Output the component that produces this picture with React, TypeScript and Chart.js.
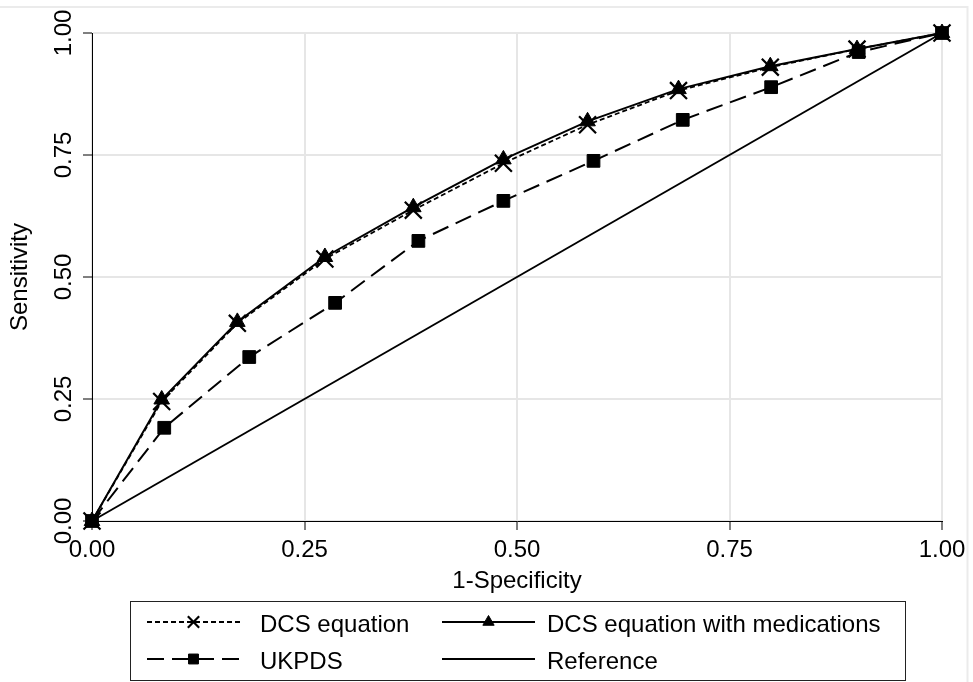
import React, { useEffect, useRef } from 'react';
import { Chart, registerables } from 'chart.js';
import { drawPoint } from 'chart.js/helpers';

Chart.register(...registerables);

// ---- data ----
const dcsFpr = [0, 0.082, 0.171, 0.274, 0.378, 0.484, 0.583, 0.69, 0.798, 0.9, 1];
const dcsSens = [0, 0.245, 0.405, 0.537, 0.637, 0.733, 0.812, 0.882, 0.93, 0.967, 1];
const dcsMedFpr = [0, 0.082, 0.171, 0.274, 0.378, 0.484, 0.583, 0.69, 0.798, 0.9, 1];
const dcsMedSens = [0, 0.249, 0.408, 0.541, 0.643, 0.741, 0.819, 0.885, 0.932, 0.967, 1];
const ukpdsFpr = [0, 0.085, 0.185, 0.286, 0.384, 0.484, 0.59, 0.695, 0.799, 0.902, 1];
const ukpdsSens = [0, 0.191, 0.336, 0.447, 0.574, 0.656, 0.738, 0.822, 0.889, 0.961, 1];
const refFpr = [0, 1];
const refSens = [0, 1];

const seriesLabels = ['DCS equation', 'DCS equation with medications', 'UKPDS', 'Reference'];
const tickValues = [0, 0.25, 0.5, 0.75, 1];
const xTitle = '1-Specificity';
const yTitle = 'Sensitivity';

const FONT = "'Liberation Sans', Arial, Helvetica, sans-serif";

const pts = (xs: number[], ys: number[]) => xs.map((x, i) => ({ x, y: ys[i] }));

const framePlugin = {
  id: 'frame',
  beforeDraw(chart: any) {
    const ctx = chart.ctx;
    ctx.save();
    ctx.fillStyle = '#ffffff';
    ctx.fillRect(0, 0, chart.width, chart.height);
    ctx.strokeStyle = '#ebebeb';
    ctx.lineWidth = 2;
    ctx.strokeRect(-10, 7, 977.5, 700);
    ctx.restore();
  },
};

const legendSlots = [
  { x0: 147, x1: 240, y: 622, tx: 260, r: 8 },
  { x0: 442, x1: 535, y: 622, tx: 547, r: 6.5 },
  { x0: 147, x1: 240, y: 659, tx: 260, r: 7 },
  { x0: 442, x1: 535, y: 659, tx: 547, r: 0 },
];

const legendPlugin = {
  id: 'stataLegend',
  afterDraw(chart: any) {
    const ctx = chart.ctx;
    const datasets = chart.data.datasets;
    ctx.save();
    ctx.setLineDash([]);
    ctx.strokeStyle = '#222';
    ctx.lineWidth = 1;
    ctx.strokeRect(130.5, 601.5, 775, 79);
    datasets.forEach((ds: any, i: number) => {
      const s = legendSlots[i];
      ctx.save();
      ctx.strokeStyle = ds.borderColor;
      ctx.lineWidth = ds.borderWidth;
      ctx.setLineDash(ds.borderDash || []);
      ctx.beginPath();
      ctx.moveTo(s.x0, s.y);
      ctx.lineTo(s.x1, s.y);
      ctx.stroke();
      ctx.setLineDash([]);
      if (s.r > 0 && ds.pointStyle) {
        ctx.fillStyle = ds.pointBackgroundColor;
        ctx.strokeStyle = ds.pointBorderColor;
        ctx.lineWidth = ds.pointBorderWidth;
        drawPoint(ctx, { pointStyle: ds.pointStyle, rotation: 0, radius: s.r, borderWidth: ds.pointBorderWidth }, (s.x0 + s.x1) / 2, s.y);
      }
      ctx.fillStyle = '#000';
      ctx.font = `24px ${FONT}`;
      ctx.textBaseline = 'middle';
      ctx.textAlign = 'left';
      ctx.fillText(ds.label, s.tx, s.y + 3);
      ctx.restore();
    });
    ctx.restore();
  },
};

export default function App() {
  const canvasRef = useRef<HTMLCanvasElement | null>(null);

  useEffect(() => {
    if (!canvasRef.current) return;
    Chart.defaults.font.family = FONT;
    Chart.defaults.color = '#000';

    const tickFont = { size: 24, family: FONT };
    const gridOpts = { color: '#e6e6e6', lineWidth: 2, tickLength: 9, tickColor: '#000', tickWidth: 1 };

    const chart = new Chart(canvasRef.current, {
      type: 'scatter',
      data: {
        datasets: [
          {
            label: seriesLabels[0],
            data: pts(dcsFpr, dcsSens),
            showLine: true,
            borderColor: '#000',
            borderWidth: 1.8,
            borderDash: [5, 3],
            pointStyle: 'crossRot',
            pointRadius: 12,
            pointBorderWidth: 2.2,
            pointBorderColor: '#000',
            pointBackgroundColor: '#000',
            clip: false,
          },
          {
            label: seriesLabels[1],
            data: pts(dcsMedFpr, dcsMedSens),
            showLine: true,
            borderColor: '#000',
            borderWidth: 2,
            pointStyle: 'triangle',
            pointRadius: 9,
            pointBorderWidth: 1,
            pointBorderColor: '#000',
            pointBackgroundColor: '#000',
            clip: false,
          },
          {
            label: seriesLabels[2],
            data: pts(ukpdsFpr, ukpdsSens),
            showLine: true,
            borderColor: '#000',
            borderWidth: 2,
            borderDash: [17, 8],
            pointStyle: 'rect',
            pointRadius: 9,
            pointBorderWidth: 1,
            pointBorderColor: '#000',
            pointBackgroundColor: '#000',
            clip: false,
          },
          {
            label: seriesLabels[3],
            data: pts(refFpr, refSens),
            showLine: true,
            borderColor: '#000',
            borderWidth: 2,
            pointRadius: 0,
            pointStyle: false as any,
            clip: false,
          },
        ],
      },
      options: {
        responsive: false,
        animation: false,
        devicePixelRatio: 1,
        events: [],
        layout: { padding: { left: 0, top: 33, right: 31, bottom: 81 } },
        plugins: {
          legend: { display: false },
          tooltip: { enabled: false },
        },
        scales: {
          x: {
            type: 'linear',
            min: 0,
            max: 1,
            afterBuildTicks: (s: any) => {
              s.ticks = tickValues.map((v) => ({ value: v }));
            },
            ticks: {
              callback: (v: any) => Number(v).toFixed(2),
              font: tickFont,
              color: '#000',
              padding: 6,
              maxRotation: 0,
              minRotation: 0,
              autoSkip: false,
            },
            grid: gridOpts,
            border: { color: '#000', width: 1 },
            title: {
              display: true,
              text: xTitle,
              color: '#000',
              font: { size: 24, family: FONT },
              padding: { top: 0, bottom: 5 },
            },
            afterFit: (s: any) => {
              s.height = 80;
            },
          },
          y: {
            type: 'linear',
            min: 0,
            max: 1,
            afterBuildTicks: (s: any) => {
              s.ticks = tickValues.map((v) => ({ value: v }));
            },
            ticks: {
              callback: (v: any) => Number(v).toFixed(2),
              font: tickFont,
              color: '#000',
              minRotation: 90,
              maxRotation: 90,
              crossAlign: 'center',
              padding: -5,
              autoSkip: false,
            },
            grid: gridOpts,
            border: { color: '#000', width: 1 },
            title: {
              display: true,
              text: yTitle,
              color: '#000',
              font: { size: 24, family: FONT },
              padding: { top: 6, bottom: 0 },
            },
            afterFit: (s: any) => {
              s.width = 92;
            },
          },
        },
      },
      plugins: [framePlugin, legendPlugin],
    } as any);

    return () => {
      chart.destroy();
    };
  }, []);

  return (
    <div style={{ position: 'absolute', left: 0, top: 0, width: 973, height: 682 }}>
      <canvas ref={canvasRef} width={973} height={682} style={{ display: 'block', width: 973, height: 682 }} />
    </div>
  );
}
